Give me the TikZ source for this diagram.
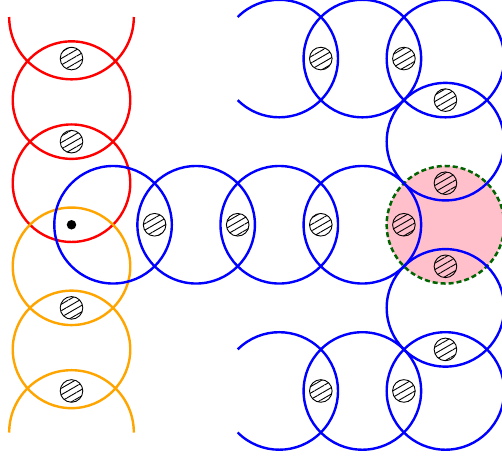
\documentclass[tikz,border=0pt]{standalone}
\usetikzlibrary{patterns.meta}
\definecolor{cpink}{RGB}{255,192,203}
\definecolor{cgreen}{RGB}{0,100,0}
\definecolor{corange}{RGB}{255,165,0}
\definecolor{cblue}{RGB}{0,0,255}
\definecolor{cred}{RGB}{255,0,0}
\tikzset{
  ring/.style={line width=2.4pt},
  hatchnode/.style={circle, draw=black, line width=0.9pt, minimum size=22.6pt, inner sep=0pt,
    pattern={Lines[angle=30,distance=5.6pt,line width=0.9pt]}},
  dotnode/.style={circle, fill=black, minimum size=9.5pt, inner sep=0pt},
  pinkzone/.style={fill=cpink, draw=cgreen, line width=2.5pt, dash pattern=on 5pt off 3pt},
}
\begin{document}
\begin{tikzpicture}[x=41.55pt, y=41.55pt]
\useasboundingbox (-1.7208,-10.5656) rectangle (10.3610,0.4091);
\def\R{1.41421}
% pink region
\path[pinkzone] (9,-5) circle[radius=\R];
% red column
\draw[ring, cred] (-1.5,0) arc[start angle=180, end angle=360, radius=1.5];
\draw[ring, cred] (0,-2) circle[radius=\R];
\draw[ring, cred] (0,-4) circle[radius=\R];
% orange column
\draw[ring, corange] (0,-6) circle[radius=\R];
\draw[ring, corange] (0,-8) circle[radius=\R];
\draw[ring, corange] (1.5,-10) arc[start angle=0, end angle=180, radius=1.5];
% blue middle row
\foreach \x in {1,3,5,7} \draw[ring, cblue] (\x,-5) circle[radius=\R];
% blue top row
\draw[ring, cblue] (5,-1) ++(-135:\R) arc[start angle=-135, end angle=135, radius=\R];
\draw[ring, cblue] (7,-1) circle[radius=\R];
\draw[ring, cblue] (9,-1) circle[radius=\R];
% blue right column
\draw[ring, cblue] (9,-3) circle[radius=\R];
\draw[ring, cblue] (9,-7) circle[radius=\R];
% blue bottom row
\draw[ring, cblue] (5,-9) ++(-135:\R) arc[start angle=-135, end angle=135, radius=\R];
\draw[ring, cblue] (7,-9) circle[radius=\R];
\draw[ring, cblue] (9,-9) circle[radius=\R];
% hatched nodes
\node[hatchnode] (l1) at (0,-1) {};
\node[hatchnode] (l2) at (0,-3) {};
\node[hatchnode] (l3) at (0,-7) {};
\node[hatchnode] (l4) at (0,-9) {};
\node[hatchnode] (m1) at (2,-5) {};
\node[hatchnode] (m2) at (4,-5) {};
\node[hatchnode] (m3) at (6,-5) {};
\node[hatchnode] (m4) at (8,-5) {};
\node[hatchnode] (t1) at (6,-1) {};
\node[hatchnode] (t2) at (8,-1) {};
\node[hatchnode] (c1) at (9,-2) {};
\node[hatchnode] (c2) at (9,-4) {};
\node[hatchnode] (c3) at (9,-6) {};
\node[hatchnode] (c4) at (9,-8) {};
\node[hatchnode] (b1) at (6,-9) {};
\node[hatchnode] (b2) at (8,-9) {};
% dot
\node[dotnode] (d) at (0,-5) {};
\end{tikzpicture}
\end{document}
